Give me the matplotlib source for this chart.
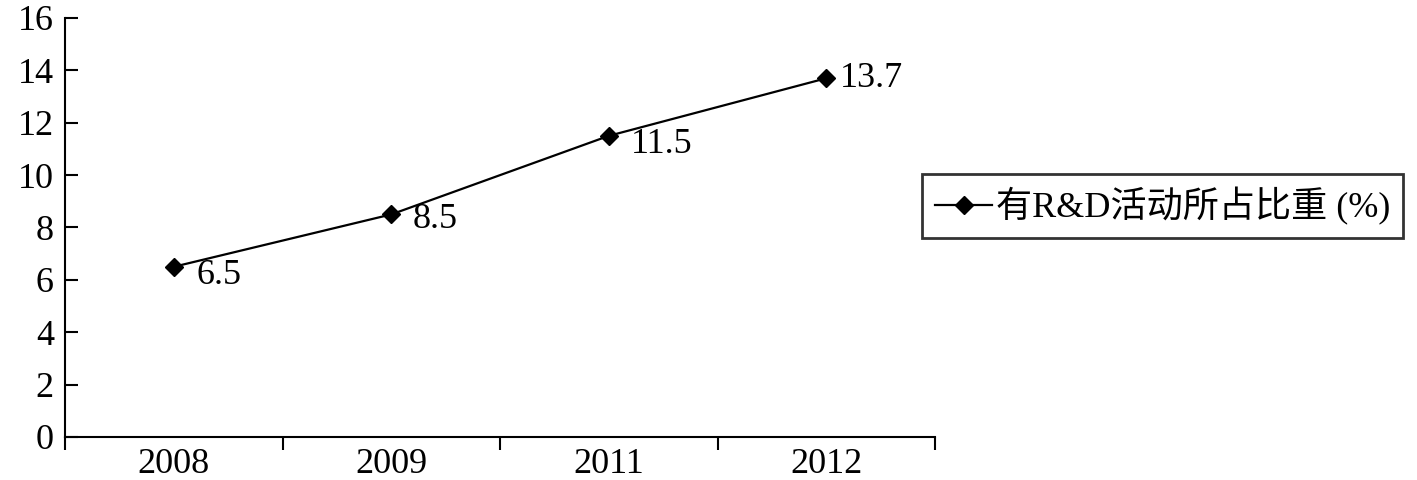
import numpy as np
import matplotlib.pyplot as plt

years = ["2008", "2009", "2011", "2012"]
share = [6.5, 8.5, 11.5, 13.7]
label_offsets = [(16, -6), (15, -4), (16, -6), (10, 0)]
series_name = "有R&D活动所占比重 (%)"

fonts = ["Liberation Serif", "Noto Sans CJK SC", "DejaVu Sans"]
plt.rcParams["font.family"] = fonts

fig = plt.figure(figsize=(14.17, 4.8), dpi=100)
ax = fig.add_axes([0.0459, 0.0896, 0.6140, 0.8729])

x = np.arange(len(years))
ax.plot(x, share, color="black", lw=1.6, marker="D", markersize=9,
        label=series_name)

for xi, v, off in zip(x, share, label_offsets):
    ax.annotate(f"{v}", (xi, v), xytext=off, textcoords="offset points",
                ha="left", va="center", fontsize=26)

ax.set_xlim(-0.5, len(years) - 0.5)
ax.set_ylim(0, 16)
ax.set_yticks(range(0, 17, 2))
ax.set_xticks(x)
ax.set_xticklabels(years)
ax.set_xticks(np.arange(-0.5, len(years)), minor=True)
ax.tick_params(axis="x", which="major", length=0, pad=8, labelsize=26)
ax.tick_params(axis="x", which="minor", length=9, width=1.5, direction="out")
ax.tick_params(axis="y", length=9, width=1.5, direction="in", pad=8, labelsize=26)

for s in ["top", "right"]:
    ax.spines[s].set_visible(False)
for s in ["left", "bottom"]:
    ax.spines[s].set_linewidth(1.5)

leg = ax.legend(loc="center left", bbox_to_anchor=(0.985, 0.551), fontsize=26,
                frameon=True, fancybox=False, edgecolor="black",
                handlelength=1.6, handletextpad=0.1, borderpad=0.35,
                borderaxespad=0)
leg.get_frame().set_linewidth(2)

fig.savefig("out.png", dpi=100)
